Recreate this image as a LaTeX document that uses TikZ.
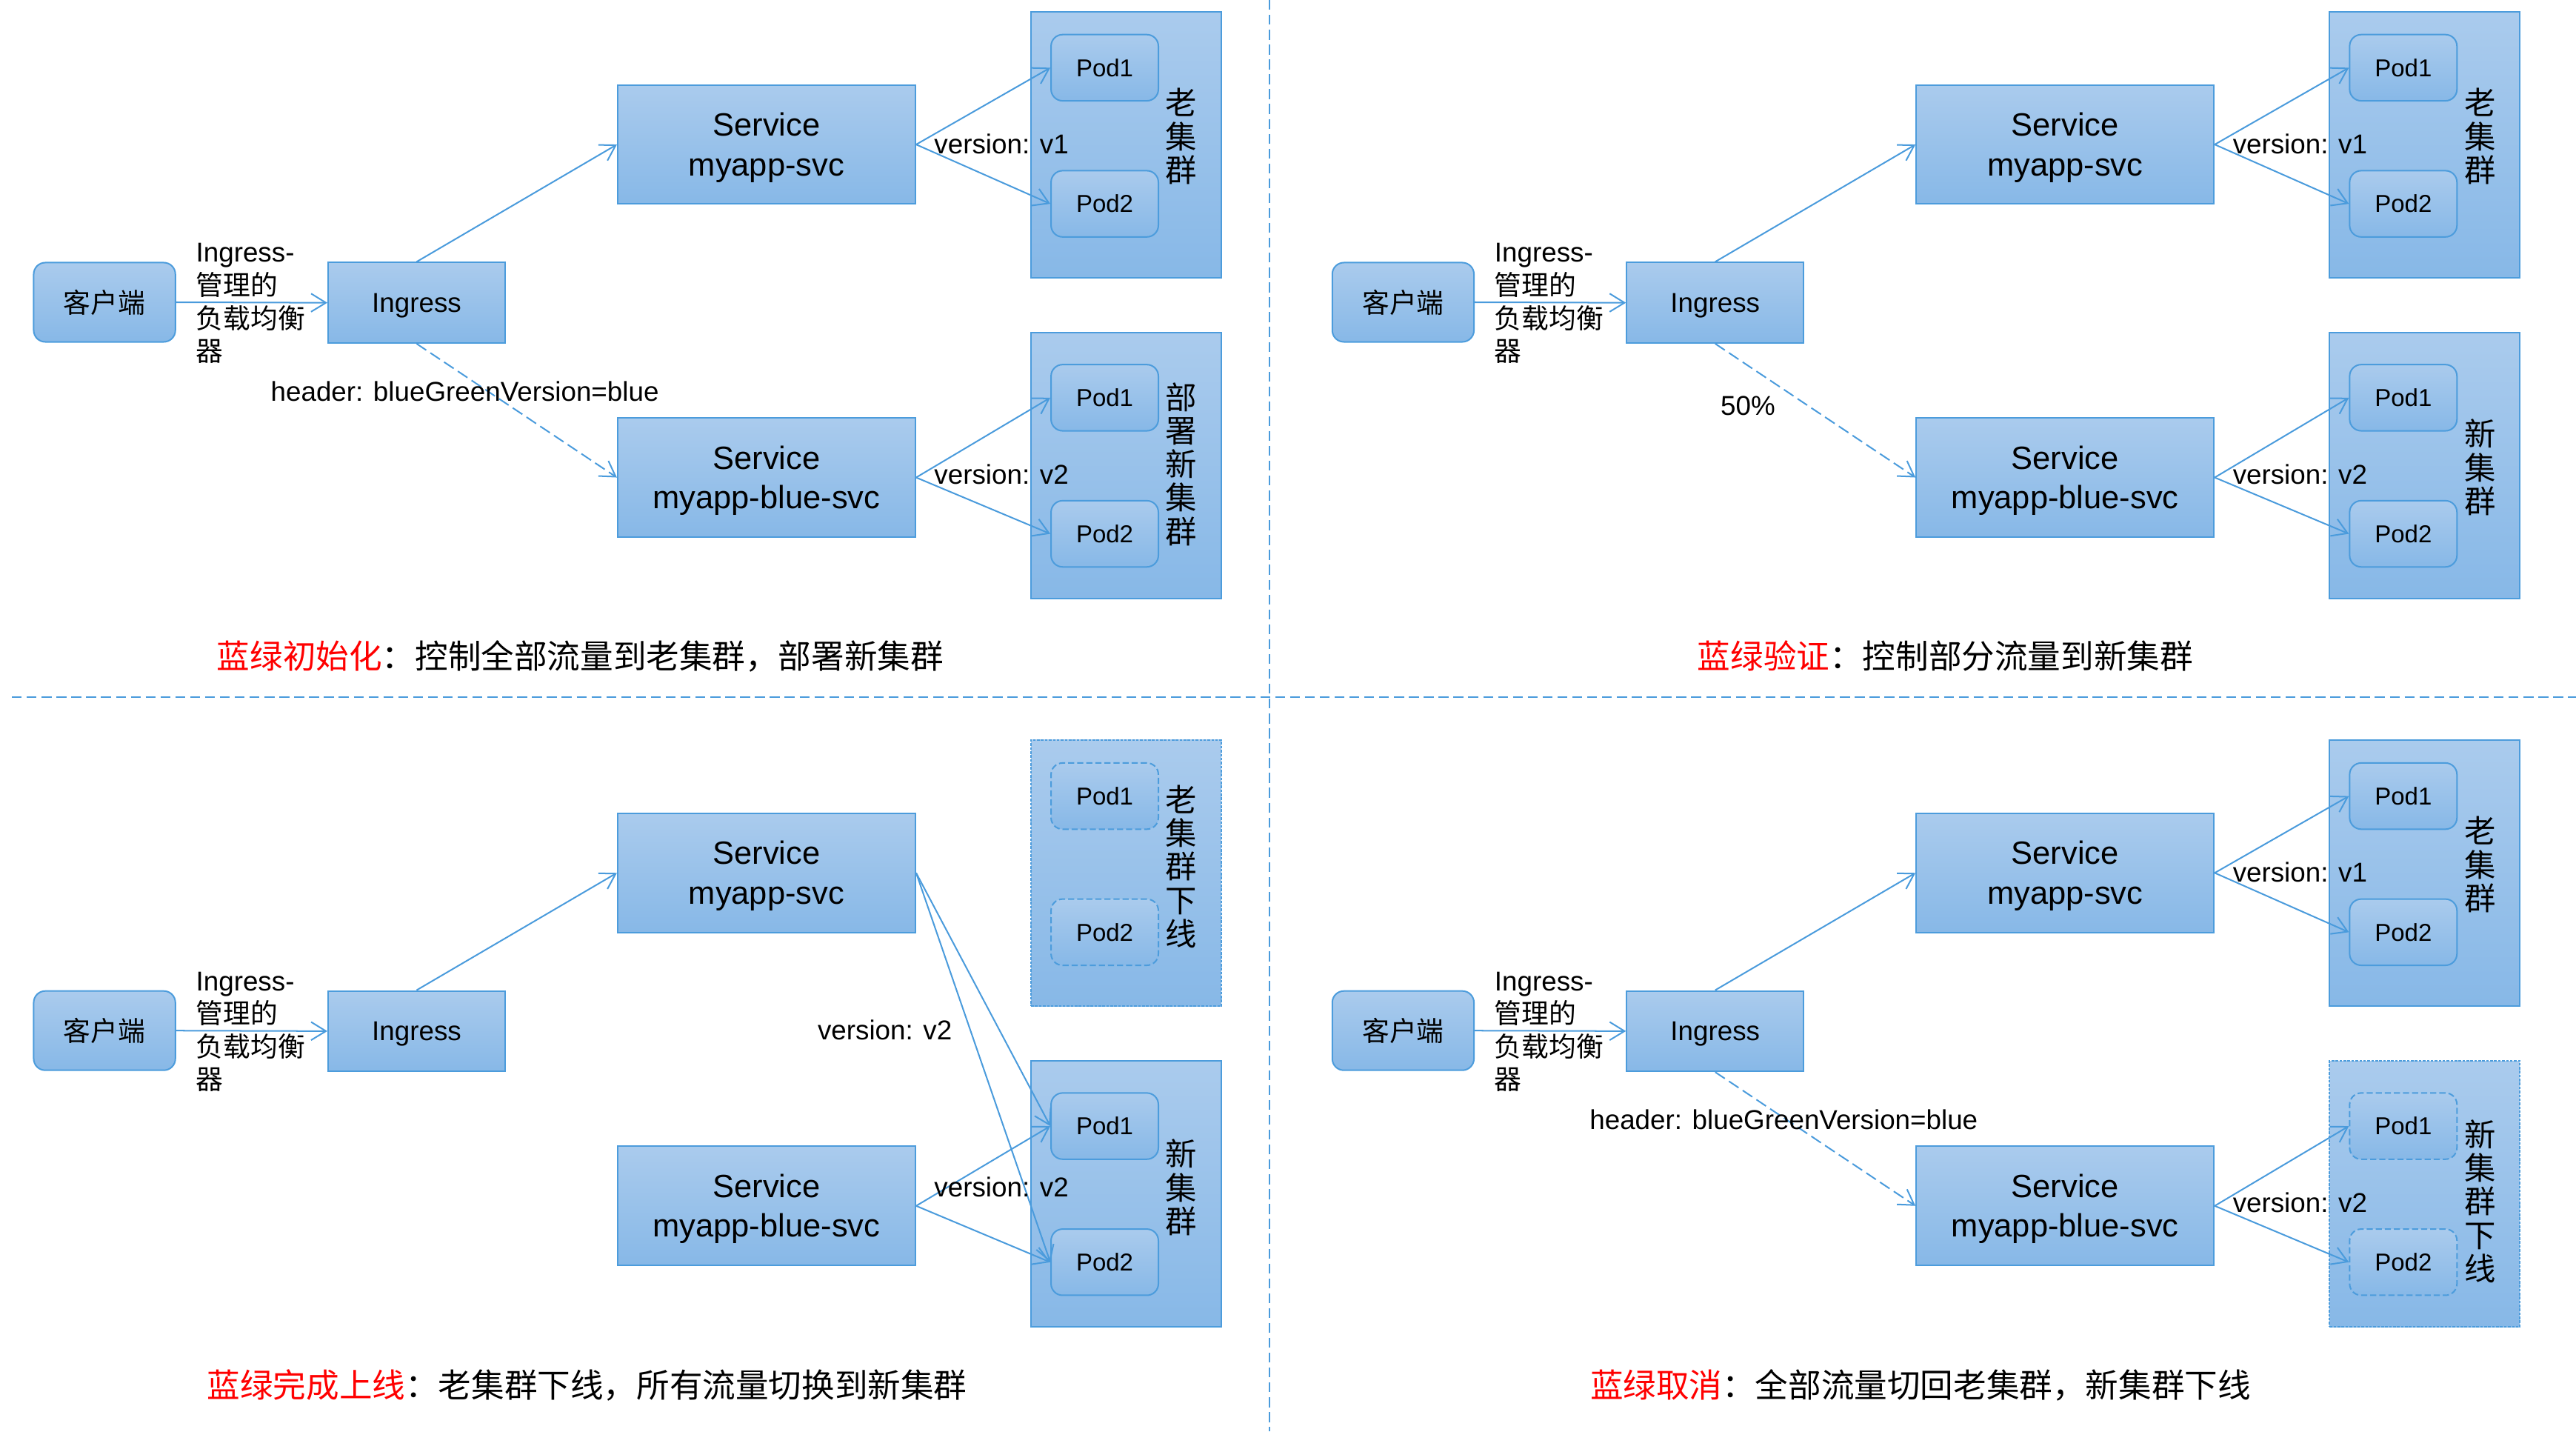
\documentclass[tikz,border=0pt]{standalone}
\usepackage{fontspec}
\setmainfont{Liberation Sans}
\newfontfamily\cjk{Noto Sans CJK SC}
\usetikzlibrary{arrows.meta}
\definecolor{btop}{RGB}{170,203,237}
\definecolor{bbot}{RGB}{135,184,231}
\definecolor{bborder}{RGB}{76,156,220}
\definecolor{bline}{RGB}{74,155,220}
\definecolor{capred}{RGB}{255,0,0}
\newcommand\svcfont{\fontsize{19.5}{24}\selectfont}
\newcommand\ingfont{\fontsize{16.5}{20}\selectfont}
\newcommand\lblfont{\fontsize{16.5}{20}\selectfont}
\newcommand\podfont{\fontsize{14.8}{18}\selectfont}
\newcommand\clifont{\cjk\fontsize{16.5}{20}\selectfont}
\newcommand\vfont{\cjk\fontsize{19}{20.3}\selectfont}
\newcommand\capfont{\cjk\fontsize{20}{24}\selectfont}
\tikzset{
  box/.style={draw=bborder, line width=0.9pt, top color=btop, bottom color=bbot, inner sep=0pt, align=center},
  svcbox/.style={box, minimum width=180.3pt, minimum height=72.1pt, font=\svcfont},
  ingbox/.style={box, minimum width=107.2pt, minimum height=48.7pt, font=\ingfont, text depth=0pt},
  clibox/.style={box, rounded corners=7pt, minimum width=85.8pt, minimum height=48pt, font=\clifont},
  clubox/.style={box, minimum width=115.2pt, minimum height=161.2pt},
  podbox/.style={box, rounded corners=7pt, minimum width=65pt, minimum height=40.1pt, font=\podfont},
  offpod/.style={dash pattern=on 3.7pt off 1.8pt},
  offclu/.style={dash pattern=on 1.6pt off 0.8pt},
  link/.style={draw=bline, line width=0.9pt, -{Straight Barb[length=9pt,width=11pt]}},
  dlink/.style={link, dash pattern=on 7pt off 3pt},
  lbl/.style={inner sep=0pt, font=\lblfont, anchor=base west},
  vtext/.style={inner sep=0pt, align=center, font=\vfont},
  captxt/.style={inner sep=0pt, anchor=base, font=\capfont},
  divider/.style={draw=bline, line width=1.1pt, dash pattern=on 6pt off 3pt}
}
\newcommand\drawbase[1]{%
  \node[clibox] (#1cli) at (63.3,183) {客户端};
  \node[ingbox] (#1ing) at (252.3,183.3) {Ingress};
  \node[svcbox] (#1svc) at (464.2,87.5) {\rule{0pt}{17.8pt}Service\\myapp-svc};
  \node[svcbox] (#1bsvc) at (464.2,289.1) {\rule{0pt}{17.8pt}Service\\myapp-blue-svc};
  \node[lbl, anchor=north west, align=left] (#1ilbl) at (118.5,147.2) {Ingress-\\{\cjk 管理的}\\{\cjk 负载均衡}\\{\cjk 器}};
  \draw[link] (#1cli.east) -- (#1ing.west);
  \draw[link] (#1ing.north) -- (#1svc.west);
}
\begin{document}
\begin{tikzpicture}[x=1pt,y=-1pt]
\useasboundingbox (0,0) rectangle (1560,866.6);

% dividers
\coordinate (dvt) at (768.7,0);
\coordinate (dvb) at (768.7,866.6);
\coordinate (dhl) at (7.2,422);
\coordinate (dhr) at (1560,422);
\draw[divider] (dvt) -- (dvb);
\draw[divider] (dhl) -- (dhr);

% ---------- top left ----------
\begin{scope}
  \drawbase{a}
  \node[clubox] (aoc) at (682,87.6) {};
  \node[podbox] (aop1) at (669,41) {Pod1};
  \node[podbox] (aop2) at (669,123.4) {Pod2};
  \node[vtext] (aot) at (715.4,82.5) {老\\集\\群};
  \node[clubox] (anc) at (682,281.9) {};
  \node[podbox] (anp1) at (669,240.8) {Pod1};
  \node[podbox] (anp2) at (669,323.2) {Pod2};
  \node[vtext] (ant) at (715.4,281) {部\\署\\新\\集\\群};
  \draw[dlink] (aing.south) -- (absvc.west);
  \node[lbl] (ahdr) at (163.8,242.7) {header: blueGreenVersion=blue};
  \draw[link] (asvc.east) -- (aop1.west);
  \draw[link] (asvc.east) -- (aop2.west);
  \node[lbl] (av1) at (565.6,92.9) {version: v1};
  \draw[link] (absvc.east) -- (anp1.west);
  \draw[link] (absvc.east) -- (anp2.west);
  \node[lbl] (av2) at (565.6,293.2) {version: v2};
\end{scope}
\node[captxt] (acap) at (351.4,404.9) {{\color{capred}蓝绿初始化}：控制全部流量到老集群，部署新集群};

% ---------- top right ----------
\begin{scope}[shift={(786.4,0)}]
  \drawbase{b}
  \node[clubox] (boc) at (682,87.6) {};
  \node[podbox] (bop1) at (669,41) {Pod1};
  \node[podbox] (bop2) at (669,123.4) {Pod2};
  \node[vtext] (bot) at (715.4,82.5) {老\\集\\群};
  \node[clubox] (bnc) at (682,281.9) {};
  \node[podbox] (bnp1) at (669,240.8) {Pod1};
  \node[podbox] (bnp2) at (669,323.2) {Pod2};
  \node[vtext] (bnt) at (715.4,283) {新\\集\\群};
  \draw[dlink] (bing.south) -- (bbsvc.west);
  \node[lbl] (bpct) at (255.4,251.6) {50\%};
  \draw[link] (bsvc.east) -- (bop1.west);
  \draw[link] (bsvc.east) -- (bop2.west);
  \node[lbl] (bv1) at (565.6,92.9) {version: v1};
  \draw[link] (bbsvc.east) -- (bnp1.west);
  \draw[link] (bbsvc.east) -- (bnp2.west);
  \node[lbl] (bv2) at (565.6,293.2) {version: v2};
\end{scope}
\node[captxt] (bcap) at (1178,404.9) {{\color{capred}蓝绿验证}：控制部分流量到新集群};

% ---------- bottom left ----------
\begin{scope}[shift={(0,441)}]
  \drawbase{c}
  \node[clubox, offclu] (coc) at (682,87.6) {};
  \node[podbox, offpod] (cop1) at (669,41) {Pod1};
  \node[podbox, offpod] (cop2) at (669,123.4) {Pod2};
  \node[vtext] (cot) at (715.4,83.6) {老\\集\\群\\下\\线};
  \node[clubox] (cnc) at (682,281.9) {};
  \node[podbox] (cnp1) at (669,240.8) {Pod1};
  \node[podbox] (cnp2) at (669,323.2) {Pod2};
  \node[vtext] (cnt) at (715.4,278) {新\\集\\群};
  \draw[link] (csvc.east) -- (cnp1.west);
  \draw[link] (csvc.east) -- (cnp2.west);
  \node[lbl] (cv2a) at (495,188.7) {version: v2};
  \draw[link] (cbsvc.east) -- (cnp1.west);
  \draw[link] (cbsvc.east) -- (cnp2.west);
  \node[lbl] (cv2b) at (565.6,283.8) {version: v2};
\end{scope}
\node[captxt] (ccap) at (355.5,846) {{\color{capred}蓝绿完成上线}：老集群下线，所有流量切换到新集群};

% ---------- bottom right ----------
\begin{scope}[shift={(786.4,441)}]
  \drawbase{d}
  \node[clubox] (doc) at (682,87.6) {};
  \node[podbox] (dop1) at (669,41) {Pod1};
  \node[podbox] (dop2) at (669,123.4) {Pod2};
  \node[vtext] (dot) at (715.4,82.5) {老\\集\\群};
  \node[clubox, offclu] (dnc) at (682,281.9) {};
  \node[podbox, offpod] (dnp1) at (669,240.8) {Pod1};
  \node[podbox, offpod] (dnp2) at (669,323.2) {Pod2};
  \node[vtext] (dnt) at (715.4,286.4) {新\\集\\群\\下\\线};
  \draw[dlink] (ding.south) -- (dbsvc.west);
  \node[lbl] (dhdr) at (176.1,242.7) {header: blueGreenVersion=blue};
  \draw[link] (dsvc.east) -- (dop1.west);
  \draw[link] (dsvc.east) -- (dop2.west);
  \node[lbl] (dv1) at (565.6,92.9) {version: v1};
  \draw[link] (dbsvc.east) -- (dnp1.west);
  \draw[link] (dbsvc.east) -- (dnp2.west);
  \node[lbl] (dv2) at (565.6,293.2) {version: v2};
\end{scope}
\node[captxt] (dcap) at (1163,846) {{\color{capred}蓝绿取消}：全部流量切回老集群，新集群下线};
\end{tikzpicture}
\end{document}
